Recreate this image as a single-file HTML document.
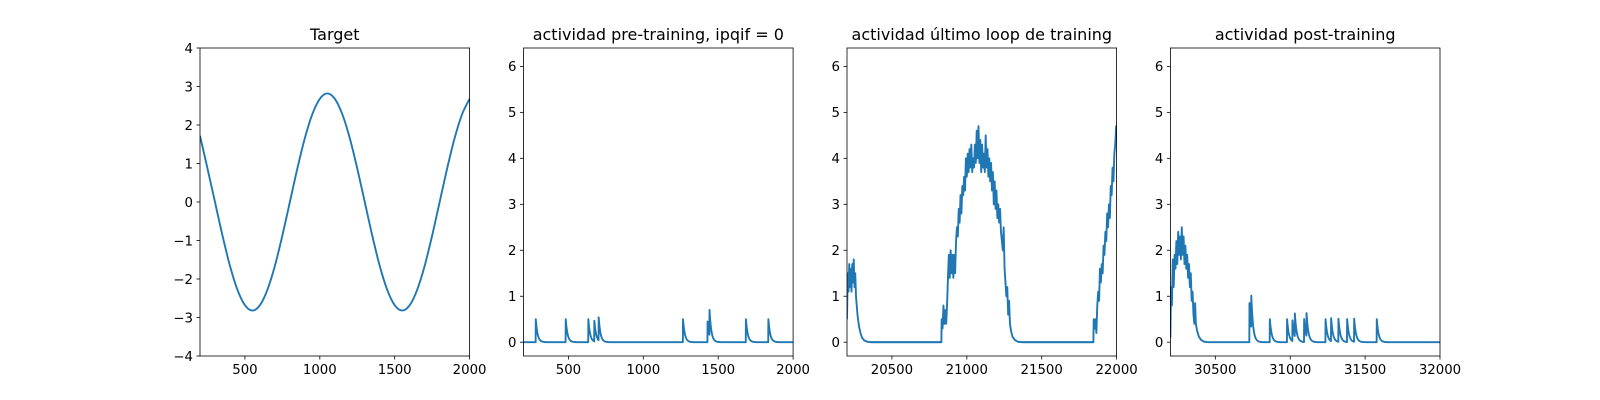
<!DOCTYPE html>
<html><head><meta charset="utf-8"><style>
html,body{margin:0;padding:0;background:#fff;}
svg{display:block;font-family:"DejaVu Sans","Liberation Sans",sans-serif;}
</style></head><body>
<svg id="fig" width="1600" height="400" xmlns="http://www.w3.org/2000/svg"></svg>
<script>
// ---- data ----
const targetT = [200,250,300,350,400,450,500,550,600,650,700,750,800,850,900,950,1000,1050,1100,1150,1200,1250,1300,1350,1400,1450,1500,1550,1600,1650,1700,1750,1800,1850,1900,1950,2000];
const targetV = [1.72,0.87,0,-0.87,-1.66,-2.28,-2.68,-2.82,-2.68,-2.28,-1.66,-0.87,0,0.87,1.66,2.28,2.68,2.82,2.68,2.28,1.66,0.87,0,-0.87,-1.66,-2.28,-2.68,-2.82,-2.68,-2.28,-1.66,-0.87,0,0.87,1.66,2.28,2.68];

const preSpikeT = [282,482,633,673,702,1265,1429,1442,1685,1835];
const preSpikeH = [0.5,0.5,0.5,0.45,0.5,0.5,0.45,0.55,0.5,0.5];

const lastT = [20200,20205,20210,20215,20220,20225,20230,20235,20240,20245,20250,20255,20260,20270,20280,20290,20300,20315,20335,20360,
20830,20832,20838,20844,20850,20856,20862,20868,20874,20880,20886,20892,20898,20904,20910,20916,20922,20928,20934,20940,20946,20952,20958,20964,20970,20976,20982,20988,20994,21000,21006,21012,21018,21024,21030,21036,21042,21048,21054,21060,21066,21072,21078,21084,21090,21096,21102,21108,21114,21120,21126,21132,21138,21144,21150,21156,21162,21168,21174,21180,21186,21192,21198,21204,21210,21216,21222,21228,21234,21240,21246,21252,21258,21264,21270,21276,21282,21288,21295,21305,21320,21340,21370,
21845,21847,21853,21859,21865,21871,21877,21883,21889,21895,21901,21907,21913,21919,21925,21931,21937,21943,21949,21955,21961,21967,21973,21979,21985,21991,21997,22000];
const lastV = [0.5,1.5,1.1,1.7,1.2,1.6,1.1,1.7,1.3,1.8,1.2,1.5,1.0,0.6,0.35,0.2,0.1,0.04,0.01,0,
0,0.5,0.3,0.8,0.4,0.7,0.4,0.8,1.4,1.9,1.4,2.0,1.5,1.9,1.4,1.9,1.5,2.2,2.5,2.3,2.9,2.6,3.2,2.8,3.4,3.2,3.6,3.3,4.0,3.6,4.1,3.7,4.2,3.8,4.3,3.7,4.0,3.8,4.3,3.9,4.6,4.0,4.7,3.9,4.4,3.7,4.3,3.8,4.1,3.7,4.5,3.8,4.2,3.6,4.0,3.5,3.9,3.3,3.7,3.0,3.5,2.9,3.3,2.7,3.0,2.6,2.9,2.4,2.2,2.0,2.5,1.6,1.3,1.0,1.2,0.6,0.9,0.4,0.25,0.12,0.05,0.01,0,
0,0.5,0.3,0.5,0.2,0.8,1.1,0.9,1.6,1.3,1.7,1.5,2.1,1.9,2.4,2.2,2.8,2.5,3.0,2.7,3.4,3.2,3.8,3.5,4.1,4.3,4.7,4.5];

const postBurstT = [30200,30204,30210,30216,30222,30228,30234,30240,30246,30252,30258,30264,30270,30276,30282,30288,30294,30300,30306,30312,30318,30324,30330,30336,30342,30348,30354,30360,30365,30370,30378,30390,30405,30425,30450];
const postBurstV = [0.1,1.2,0.8,1.8,1.2,1.9,1.6,2.2,1.7,2.4,1.9,2.3,1.8,2.5,1.9,2.3,1.7,2.1,1.6,1.9,1.4,1.7,1.2,1.5,0.9,1.1,0.6,0.4,0.85,0.4,0.25,0.12,0.05,0.01,0];
const postSpikeT = [30728,30740,30864,30979,31015,31031,31093,31109,31236,31273,31322,31380,31427,31578];
const postSpikeH = [0.85,0.7,0.5,0.5,0.45,0.5,0.5,0.5,0.5,0.5,0.5,0.5,0.5,0.5];

const xTicks1 = [500,1000,1500,2000];
const xTicks3 = [20500,21000,21500,22000];
const xTicks4 = [30500,31000,31500,32000];
const yTicks1 = [-4,-3,-2,-1,0,1,2,3,4];
const yTicks2 = [0,1,2,3,4,5,6];
const titles = ["Target","actividad pre-training, ipqif = 0","actividad último loop de training","actividad post-training"];

// ---- drawing ----
const NS = "http://www.w3.org/2000/svg";
const svg = document.getElementById('fig');
const TOP = 48, BOT = 356, W = 269.6;
const LEFTS = [200, 523.5, 847, 1170.4];
const BLUE = "#1f77b4";
function el(tag, attrs, parent){ const e=document.createElementNS(NS,tag); for(const k in attrs) e.setAttribute(k,attrs[k]); (parent||svg).appendChild(e); return e; }
function fmt(v){ return v<0 ? "\u2212"+Math.abs(v) : String(v); }

function spikeSeries(t0,t1,st,sh,tau){
  const ts=[],vs=[];
  for(let t=t0;t<=t1;t+=1){
    let v=0;
    for(let i=0;i<st.length;i++){ const d=t-st[i]; if(d>=0) v+=sh[i]*Math.exp(-d/tau); }
    ts.push(t); vs.push(v);
  }
  return [ts,vs];
}

function panel(idx, xmin, xmax, ymin, ymax, xt, yt, seriesList, smooth){
  const L=LEFTS[idx];
  const g = el('g',{});
  
  
  const xs = v => L + (v-xmin)/(xmax-xmin)*W;
  const ys = v => BOT - (v-ymin)/(ymax-ymin)*(BOT-TOP);
  const cid='clip'+idx;
  const cp = el('clipPath',{id:cid},g); el('rect',{x:L,y:TOP,width:W,height:BOT-TOP},cp);
  seriesList.forEach((s)=>{
    const [T,V]=s; let d='';
    if(smooth){
      const P=T.map((t,i)=>[xs(t),ys(V[i])]);
      d='M'+P[0][0].toFixed(2)+','+P[0][1].toFixed(2);
      for(let i=0;i<P.length-1;i++){
        const p0=P[Math.max(0,i-1)],p1=P[i],p2=P[i+1],p3=P[Math.min(P.length-1,i+2)];
        const c1=[p1[0]+(p2[0]-p0[0])/6,p1[1]+(p2[1]-p0[1])/6];
        const c2=[p2[0]-(p3[0]-p1[0])/6,p2[1]-(p3[1]-p1[1])/6];
        d+=`C${c1[0].toFixed(2)},${c1[1].toFixed(2)} ${c2[0].toFixed(2)},${c2[1].toFixed(2)} ${p2[0].toFixed(2)},${p2[1].toFixed(2)}`;
      }
    } else {
      d=T.map((t,i)=>(i?'L':'M')+xs(t).toFixed(2)+','+ys(V[i]).toFixed(2)).join('');
    }
    const p=el('path',{d:d,fill:'none',stroke:BLUE,'stroke-width':1.9,'stroke-linejoin':'round','clip-path':`url(#${cid})`},g);
    
    
  });
  const fr=el('rect',{x:L,y:TOP,width:W,height:BOT-TOP,fill:'none',stroke:'#000','stroke-width':0.8},g);
  
  
  xt.forEach(v=>{
    const x=xs(v);
    el('line',{x1:x,x2:x,y1:BOT,y2:BOT+3.5,stroke:'#000','stroke-width':0.8},g);
    const t=el('text',{x:x,y:BOT+18,'text-anchor':'middle','font-size':13.3,fill:'#000'},g);
    t.textContent=fmt(v);
    
    
  });
  yt.forEach(v=>{
    const y=ys(v);
    el('line',{x1:L-3.5,x2:L,y1:y,y2:y,stroke:'#000','stroke-width':0.8},g);
    const t=el('text',{x:L-7,y:y+4.8,'text-anchor':'end','font-size':13.3,fill:'#000'},g);
    t.textContent=fmt(v);
    
    
  });
  const tt=el('text',{x:L+W/2,y:TOP-8,'text-anchor':'middle','font-size':16,fill:'#000'},g);
  tt.textContent=titles[idx];
  
  
}

panel(0,200,2000,-4,4,xTicks1,yTicks1,[[targetT,targetV]],true);
panel(1,200,2000,-0.3,6.4,xTicks1,yTicks2,[spikeSeries(200,2000,preSpikeT,preSpikeH,12)],false);
panel(2,20200,22000,-0.3,6.4,xTicks3,yTicks2,[[lastT,lastV],[[20360,20830],[0,0]],[[21370,21845],[0,0]]],false);
const ps=spikeSeries(30450,32000,postSpikeT,postSpikeH,12);
panel(3,30200,32000,-0.3,6.4,xTicks4,yTicks2,[[postBurstT,postBurstV],ps],false);
</script>
</body></html>
